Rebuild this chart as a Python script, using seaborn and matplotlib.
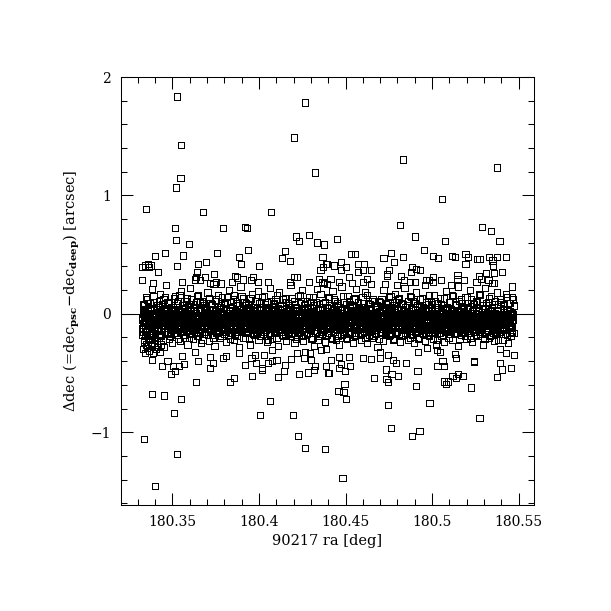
import numpy as np
import pandas as pd
import matplotlib
matplotlib.use("Agg")
import matplotlib.pyplot as plt
import seaborn as sns
from matplotlib.ticker import MultipleLocator, FixedLocator, FixedFormatter

# ---------------- data ----------------
# sparse / outlying points: RA [deg], Delta dec [arcsec]
out_ra = [
    180.3529, 180.4264, 180.4204, 180.3552, 180.4326, 180.3548, 180.3520, 180.3350, 180.3679, 180.4072,
    180.3517, 180.3794, 180.3921, 180.3933, 180.3521, 180.3598, 180.3460, 180.3562, 180.3402, 180.3760,
    180.3939, 180.3887, 180.4151, 180.4133, 180.4181, 180.4216, 180.4232, 180.4291, 180.4336, 180.4378,
    180.4367, 180.4388, 180.4372, 180.4355, 180.3327, 180.3342, 180.3362, 180.3377, 180.3365, 180.3419,
    180.3650, 180.3696, 180.3529, 180.3895, 180.4002, 180.3739, 180.3643, 180.3327, 180.3389, 180.3558,
    180.3629, 180.3639, 180.3691, 180.3658, 180.3860, 180.3874, 180.3846, 180.3908, 180.3966, 180.3953,
    180.3754, 180.3719, 180.3781, 180.4054, 180.4203, 180.4222, 180.4181, 180.4291, 180.4349, 180.4367,
    180.4374, 180.3997,
    180.4834, 180.5376, 180.5055, 180.4816, 180.5290, 180.5342, 180.4451, 180.4903, 180.5073, 180.5389,
    180.4952, 180.4530, 180.4555, 180.4761, 180.4719, 180.4834, 180.5007, 180.5036, 180.5113, 180.5134,
    180.5192, 180.5209, 180.5258, 180.5273, 180.5330, 180.5374, 180.5428, 180.5348, 180.5352, 180.4393,
    180.4435, 180.4476, 180.4503, 180.4476, 180.4574, 180.4608, 180.4599, 180.4570, 180.4645, 180.4782,
    180.4753, 180.4740, 180.4740, 180.4886, 180.4909, 180.4932, 180.4880, 180.5192, 180.5311, 180.5359,
    180.5405, 180.5269, 180.5284, 180.5146, 180.5146, 180.4820, 180.4836, 180.4413, 180.4463, 180.4520,
    180.4623, 180.4603, 180.4649, 180.4963, 180.4980, 180.5007, 180.5007, 180.5053, 180.5186, 180.5256,
    180.5281, 180.5325, 180.5344, 180.5356, 180.4901, 180.4872, 180.4726, 180.4796, 180.4538, 180.4393,
    180.5110, 180.5460,
    180.3639, 180.3835, 180.3857, 180.3385, 180.3454, 180.3552, 180.3512, 180.4064, 180.4008, 180.4199,
    180.4383, 180.3338, 180.3529, 180.3402, 180.4226, 180.4264, 180.4383, 180.3962, 180.4112, 180.3494,
    180.3517, 180.3442, 180.3385, 180.3719, 180.3921, 180.4020, 180.4020, 180.4145, 180.4149, 180.4232,
    180.4285, 180.4317, 180.4386, 180.3650, 180.3737, 180.3794, 180.3984, 180.4051, 180.4076, 180.4101,
    180.4186, 180.4259, 180.4303, 180.3569, 180.3540, 180.3473, 180.3502, 180.4398, 180.3716, 180.3808,
    180.3631, 180.3558, 180.3887, 180.3957, 180.3976, 180.4031, 180.4076, 180.4109, 180.4222, 180.4268,
    180.4293, 180.4326, 180.4386, 180.4359,
    180.4482, 180.4763, 180.4886, 180.4927, 180.5273, 180.4747, 180.4985, 180.4505, 180.4488, 180.4459,
    180.4494, 180.4906, 180.5226, 180.5082, 180.5070, 180.5090, 180.5376, 180.4666, 180.4747, 180.4736,
    180.4805, 180.4765, 180.4732, 180.4915, 180.4851, 180.5031, 180.5070, 180.5060, 180.5117, 180.5150,
    180.5180, 180.5137, 180.5242, 180.5394, 180.5405, 180.5457, 180.4403, 180.4418, 180.4461, 180.4476,
    180.4528, 180.4499, 180.4463, 180.4522, 180.4603, 180.4649, 180.4701, 180.4774, 180.4793, 180.5474,
    180.5428, 180.5394, 180.4920, 180.4972, 180.5028, 180.5047, 180.5134, 180.5140, 180.5242, 180.4701,
    180.4747,
]
out_ddec = [
    1.836, 1.785, 1.489, 1.424, 1.193, 1.150, 1.066, 0.888, 0.862, 0.862,
    0.727, 0.727, 0.735, 0.727, 0.625, 0.588, 0.515, 0.493, 0.490, 0.515,
    0.541, 0.482, 0.532, 0.473, 0.448, 0.653, 0.617, 0.668, 0.603, 0.586,
    0.482, 0.419, 0.394, 0.368, 0.397, 0.408, 0.419, 0.408, 0.397, 0.355,
    0.422, 0.436, 0.405, 0.422, 0.405, 0.338, 0.355, 0.287, 0.262, 0.270,
    0.289, 0.309, 0.312, 0.284, 0.321, 0.306, 0.270, 0.289, 0.312, 0.287,
    0.270, 0.262, 0.256, 0.270, 0.312, 0.312, 0.270, 0.270, 0.295, 0.270,
    0.262, 0.270,
    1.303, 1.235, 0.972, 0.752, 0.735, 0.702, 0.631, 0.653, 0.617, 0.617,
    0.541, 0.507, 0.507, 0.512, 0.473, 0.482, 0.490, 0.473, 0.490, 0.482,
    0.507, 0.482, 0.461, 0.465, 0.482, 0.482, 0.482, 0.450, 0.408, 0.422,
    0.408, 0.436, 0.394, 0.368, 0.422, 0.422, 0.368, 0.355, 0.368, 0.436,
    0.368, 0.338, 0.321, 0.394, 0.380, 0.368, 0.355, 0.422, 0.343, 0.343,
    0.355, 0.321, 0.295, 0.326, 0.295, 0.321, 0.287, 0.295, 0.270, 0.312,
    0.295, 0.270, 0.253, 0.287, 0.287, 0.312, 0.270, 0.287, 0.287, 0.270,
    0.295, 0.287, 0.262, 0.262, 0.270, 0.270, 0.253, 0.245, 0.262, 0.253,
    0.245, 0.230,
    -0.576, -0.576, -0.543, -0.678, -0.690, -0.720, -0.839, -0.737, -0.856, -0.856,
    -0.746, -1.059, -1.186, -1.457, -1.033, -1.132, -1.144, -0.526, -0.534, -0.509,
    -0.481, -0.441, -0.390, -0.458, -0.433, -0.458, -0.475, -0.483, -0.433, -0.509,
    -0.495, -0.472, -0.441, -0.399, -0.416, -0.373, -0.416, -0.416, -0.399, -0.390,
    -0.382, -0.373, -0.390, -0.427, -0.441, -0.399, -0.441, -0.500, -0.365, -0.356,
    -0.322, -0.356, -0.331, -0.373, -0.348, -0.348, -0.306, -0.272, -0.331, -0.322,
    -0.331, -0.441, -0.297, -0.306,
    -1.389, -0.966, -1.033, -0.991, -0.881, -0.771, -0.754, -0.720, -0.661, -0.653,
    -0.593, -0.610, -0.622, -0.593, -0.571, -0.571, -0.534, -0.543, -0.576, -0.551,
    -0.526, -0.509, -0.470, -0.483, -0.416, -0.444, -0.441, -0.399, -0.526, -0.509,
    -0.526, -0.543, -0.399, -0.416, -0.470, -0.458, -0.500, -0.390, -0.365, -0.424,
    -0.444, -0.483, -0.458, -0.365, -0.373, -0.382, -0.373, -0.390, -0.416, -0.348,
    -0.331, -0.297, -0.322, -0.289, -0.306, -0.322, -0.339, -0.373, -0.407, -0.322,
    -0.345,
]

# dense core of the band: RA offset from 180.3 deg in 1e-4 deg, Delta dec in 0.01 arcsec
core_ra_e4 = [
    325, 329, 331, 335, 338, 343, 345, 348, 352, 355, 358, 362, 364, 369, 372, 375, 379, 381, 385, 389,
    393, 395, 398, 403, 406, 408, 412, 416, 419, 422, 424, 429, 432, 436, 438, 441, 445, 448, 452, 456,
    458, 463, 466, 469, 473, 475, 479, 482, 487, 489, 492, 496, 499, 503, 505, 509, 512, 515, 519, 523,
    526, 530, 532, 536, 539, 544, 546, 549, 553, 556, 559, 563, 565, 570, 573, 576, 580, 582, 586, 590,
    594, 596, 599, 604, 607, 609, 613, 617, 620, 623, 625, 630, 633, 637, 639, 642, 646, 649, 653, 657,
    659, 664, 667, 670, 674, 676, 680, 683, 688, 690, 693, 697, 700, 704, 706, 710, 713, 716, 720, 724,
    727, 731, 733, 737, 740, 745, 747, 750, 754, 757, 760, 764, 766, 771, 774, 777, 781, 783, 787, 791,
    795, 797, 800, 805, 808, 810, 814, 818, 821, 824, 826, 831, 834, 838, 840, 843, 847, 850, 854, 858,
    860, 865, 868, 871, 875, 877, 881, 884, 889, 891, 894, 898, 901, 905, 907, 911, 914, 917, 921, 925,
    928, 932, 934, 938, 941, 946, 948, 951, 955, 958, 961, 965, 967, 972, 975, 978, 982, 984, 988, 992,
    996, 998, 1001, 1006, 1009, 1011, 1015, 1019, 1022, 1025, 1027, 1032, 1035, 1039, 1041, 1044, 1048, 1051, 1055, 1059,
    1061, 1066, 1069, 1072, 1076, 1078, 1082, 1085, 1090, 1092, 1095, 1099, 1102, 1106, 1108, 1112, 1115, 1118, 1122, 1126,
    1129, 1133, 1135, 1139, 1142, 1147, 1149, 1152, 1156, 1159, 1162, 1166, 1168, 1173, 1176, 1179, 1183, 1185, 1189, 1193,
    1197, 1199, 1202, 1207, 1210, 1212, 1216, 1220, 1223, 1226, 1228, 1233, 1236, 1240, 1242, 1245, 1249, 1252, 1256, 1260,
    1262, 1267, 1270, 1273, 1277, 1279, 1283, 1286, 1291, 1293, 1296, 1300, 1303, 1307, 1309, 1313, 1316, 1319, 1323, 1327,
    1330, 1334, 1336, 1340, 1343, 1348, 1350, 1353, 1357, 1360, 1363, 1367, 1369, 1374, 1377, 1380, 1384, 1386, 1390, 1394,
    1398, 1400, 1403, 1408, 1411, 1413, 1417, 1421, 1424, 1427, 1429, 1434, 1437, 1441, 1443, 1446, 1450, 1453, 1457, 1461,
    1463, 1468, 1471, 1474, 1478, 1480, 1484, 1487, 1492, 1494, 1497, 1501, 1504, 1508, 1510, 1514, 1517, 1520, 1524, 1528,
    1531, 1535, 1537, 1541, 1544, 1549, 1551, 1554, 1558, 1561, 1564, 1568, 1570, 1575, 1578, 1581, 1585, 1587, 1591, 1595,
    1599, 1601, 1604, 1609, 1612, 1614, 1618, 1622, 1625, 1628, 1630, 1635, 1638, 1642, 1644, 1647, 1651, 1654, 1658, 1662,
    1664, 1669, 1672, 1675, 1679, 1681, 1685, 1688, 1693, 1695, 1698, 1702, 1705, 1709, 1711, 1715, 1718, 1721, 1725, 1729,
    1732, 1736, 1738, 1742, 1745, 1750, 1752, 1755, 1759, 1762, 1765, 1769, 1771, 1776, 1779, 1782, 1786, 1788, 1792, 1796,
    1800, 1802, 1805, 1810, 1813, 1815, 1819, 1823, 1826, 1829, 1831, 1836, 1839, 1843, 1845, 1848, 1852, 1855, 1859, 1863,
    1865, 1870, 1873, 1876, 1880, 1882, 1886, 1889, 1894, 1896, 1899, 1903, 1906, 1910, 1912, 1916, 1919, 1922, 1926, 1930,
    1933, 1937, 1939, 1943, 1946, 1951, 1953, 1956, 1960, 1963, 1966, 1970, 1972, 1977, 1980, 1983, 1987, 1989, 1993, 1997,
    2001, 2003, 2006, 2011, 2014, 2016, 2020, 2024, 2027, 2030, 2032, 2037, 2040, 2044, 2046, 2049, 2053, 2056, 2060, 2064,
    2066, 2071, 2074, 2077, 2081, 2083, 2087, 2090, 2095, 2097, 2100, 2104, 2107, 2111, 2113, 2117, 2120, 2123, 2127, 2131,
    2134, 2138, 2140, 2144, 2147, 2152, 2154, 2157, 2161, 2164, 2167, 2171, 2173, 2178, 2181, 2184, 2188, 2190, 2194, 2198,
    2202, 2204, 2207, 2212, 2215, 2217, 2221, 2225, 2228, 2231, 2233, 2238, 2241, 2245, 2247, 2250, 2254, 2257, 2261, 2265,
    2267, 2272, 2275, 2278, 2282, 2284, 2288, 2291, 2296, 2298, 2301, 2305, 2308, 2312, 2314, 2318, 2321, 2324, 2328, 2332,
    2335, 2339, 2341, 2345, 2348, 2353, 2355, 2358, 2362, 2365, 2368, 2372, 2374, 2379, 2382, 2385, 2389, 2391, 2395, 2399,
    2403, 2405, 2408, 2413, 2416, 2418, 2422, 2426, 2429, 2432, 2434, 2439, 2442, 2446, 2448, 2451, 2455, 2458, 2462, 2466,
]
core_ddec_e2 = [
    -3, 2, -9, -5, 1, -12, -6, 0, -2, -10, 4, -7, -4, -13, -1, 3, -8, -5, -11, -2,
    -6, -11, 1, -3, -8, 4, -13, -5, -1, -9, -4, 2, -7, -12, 0, -6, -3, -10, 5, -8,
    0, -7, -4, -12, 3, -9, -2, -6, -14, 1, -5, -10, -3, 4, -8, -1, -11, -6, 2, -4,
    -9, -1, -5, 3, -13, -7, 2, -3, -10, -6, 0, -12, -4, -8, 5, -2, -9, -14, -5, 1,
    -4, -10, 4, -2, -7, -12, -1, -5, 2, -9, -13, -3, -6, 1, -11, -4, 3, -7, -2, -10,
    2, -5, -13, -8, -1, -4, -11, 5, -6, -3, -9, 0, -12, -5, -2, -8, 4, -10, -6, -1,
    -7, 3, -2, -10, -5, 0, -8, -12, -4, 1, -6, -14, -3, -9, 2, -5, -11, -1, -7, -3,
    -11, -4, 0, -6, 4, -9, -3, -13, -7, -2, 3, -5, -10, -1, -8, -4, 1, -12, -6, 0,
    -3, 2, -9, -5, 1, -12, -6, 0, -2, -10, 4, -7, -4, -13, -1, 3, -8, -5, -11, -2,
    -6, -11, 1, -3, -8, 4, -13, -5, -1, -9, -4, 2, -7, -12, 0, -6, -3, -10, 5, -8,
    0, -7, -4, -12, 3, -9, -2, -6, -14, 1, -5, -10, -3, 4, -8, -1, -11, -6, 2, -4,
    -9, -1, -5, 3, -13, -7, 2, -3, -10, -6, 0, -12, -4, -8, 5, -2, -9, -14, -5, 1,
    -4, -10, 4, -2, -7, -12, -1, -5, 2, -9, -13, -3, -6, 1, -11, -4, 3, -7, -2, -10,
    2, -5, -13, -8, -1, -4, -11, 5, -6, -3, -9, 0, -12, -5, -2, -8, 4, -10, -6, -1,
    -7, 3, -2, -10, -5, 0, -8, -12, -4, 1, -6, -14, -3, -9, 2, -5, -11, -1, -7, -3,
    -11, -4, 0, -6, 4, -9, -3, -13, -7, -2, 3, -5, -10, -1, -8, -4, 1, -12, -6, 0,
    -3, 2, -9, -5, 1, -12, -6, 0, -2, -10, 4, -7, -4, -13, -1, 3, -8, -5, -11, -2,
    -6, -11, 1, -3, -8, 4, -13, -5, -1, -9, -4, 2, -7, -12, 0, -6, -3, -10, 5, -8,
    0, -7, -4, -12, 3, -9, -2, -6, -14, 1, -5, -10, -3, 4, -8, -1, -11, -6, 2, -4,
    -9, -1, -5, 3, -13, -7, 2, -3, -10, -6, 0, -12, -4, -8, 5, -2, -9, -14, -5, 1,
    -4, -10, 4, -2, -7, -12, -1, -5, 2, -9, -13, -3, -6, 1, -11, -4, 3, -7, -2, -10,
    2, -5, -13, -8, -1, -4, -11, 5, -6, -3, -9, 0, -12, -5, -2, -8, 4, -10, -6, -1,
    -7, 3, -2, -10, -5, 0, -8, -12, -4, 1, -6, -14, -3, -9, 2, -5, -11, -1, -7, -3,
    -11, -4, 0, -6, 4, -9, -3, -13, -7, -2, 3, -5, -10, -1, -8, -4, 1, -12, -6, 0,
    -3, 2, -9, -5, 1, -12, -6, 0, -2, -10, 4, -7, -4, -13, -1, 3, -8, -5, -11, -2,
    -6, -11, 1, -3, -8, 4, -13, -5, -1, -9, -4, 2, -7, -12, 0, -6, -3, -10, 5, -8,
    0, -7, -4, -12, 3, -9, -2, -6, -14, 1, -5, -10, -3, 4, -8, -1, -11, -6, 2, -4,
    -9, -1, -5, 3, -13, -7, 2, -3, -10, -6, 0, -12, -4, -8, 5, -2, -9, -14, -5, 1,
    -4, -10, 4, -2, -7, -12, -1, -5, 2, -9, -13, -3, -6, 1, -11, -4, 3, -7, -2, -10,
    2, -5, -13, -8, -1, -4, -11, 5, -6, -3, -9, 0, -12, -5, -2, -8, 4, -10, -6, -1,
    -7, 3, -2, -10, -5, 0, -8, -12, -4, 1, -6, -14, -3, -9, 2, -5, -11, -1, -7, -3,
    -11, -4, 0, -6, 4, -9, -3, -13, -7, -2, 3, -5, -10, -1, -8, -4, 1, -12, -6, 0,
]

# second layer of the dense core (same units)
core2_ra_e4 = [
    325, 328, 332, 335, 340, 342, 346, 349, 352, 356, 358, 361, 366, 369, 373, 375, 379, 382, 386, 390,
    393, 396, 398, 402, 406, 409, 414, 416, 419, 423, 426, 428, 432, 437, 440, 443, 447, 450, 452, 457,
    461, 464, 467, 469, 474, 477, 481, 483, 487, 490, 493, 497, 499, 504, 507, 511, 514, 516, 520, 524,
    526, 529, 533, 536, 541, 543, 547, 550, 553, 557, 559, 562, 567, 570, 574, 576, 580, 583, 587, 591,
    594, 597, 599, 603, 607, 610, 615, 617, 620, 624, 627, 629, 633, 638, 641, 644, 648, 651, 653, 658,
    662, 665, 668, 670, 675, 678, 682, 684, 688, 691, 694, 698, 700, 705, 708, 712, 715, 717, 721, 725,
    727, 730, 734, 737, 742, 744, 748, 751, 754, 758, 760, 763, 768, 771, 775, 777, 781, 784, 788, 792,
    795, 798, 800, 804, 808, 811, 816, 818, 821, 825, 828, 830, 834, 839, 842, 845, 849, 852, 854, 859,
    863, 866, 869, 871, 876, 879, 883, 885, 889, 892, 895, 899, 901, 906, 909, 913, 916, 918, 922, 926,
    928, 931, 935, 938, 943, 945, 949, 952, 955, 959, 961, 964, 969, 972, 976, 978, 982, 985, 989, 993,
    996, 999, 1001, 1005, 1009, 1012, 1017, 1019, 1022, 1026, 1029, 1031, 1035, 1040, 1043, 1046, 1050, 1053, 1055, 1060,
    1064, 1067, 1070, 1072, 1077, 1080, 1084, 1086, 1090, 1093, 1096, 1100, 1102, 1107, 1110, 1114, 1117, 1119, 1123, 1127,
    1129, 1132, 1136, 1139, 1144, 1146, 1150, 1153, 1156, 1160, 1162, 1165, 1170, 1173, 1177, 1179, 1183, 1186, 1190, 1194,
    1197, 1200, 1202, 1206, 1210, 1213, 1218, 1220, 1223, 1227, 1230, 1232, 1236, 1241, 1244, 1247, 1251, 1254, 1256, 1261,
    1265, 1268, 1271, 1273, 1278, 1281, 1285, 1287, 1291, 1294, 1297, 1301, 1303, 1308, 1311, 1315, 1318, 1320, 1324, 1328,
    1330, 1333, 1337, 1340, 1345, 1347, 1351, 1354, 1357, 1361, 1363, 1366, 1371, 1374, 1378, 1380, 1384, 1387, 1391, 1395,
    1398, 1401, 1403, 1407, 1411, 1414, 1419, 1421, 1424, 1428, 1431, 1433, 1437, 1442, 1445, 1448, 1452, 1455, 1457, 1462,
    1466, 1469, 1472, 1474, 1479, 1482, 1486, 1488, 1492, 1495, 1498, 1502, 1504, 1509, 1512, 1516, 1519, 1521, 1525, 1529,
    1531, 1534, 1538, 1541, 1546, 1548, 1552, 1555, 1558, 1562, 1564, 1567, 1572, 1575, 1579, 1581, 1585, 1588, 1592, 1596,
    1599, 1602, 1604, 1608, 1612, 1615, 1620, 1622, 1625, 1629, 1632, 1634, 1638, 1643, 1646, 1649, 1653, 1656, 1658, 1663,
    1667, 1670, 1673, 1675, 1680, 1683, 1687, 1689, 1693, 1696, 1699, 1703, 1705, 1710, 1713, 1717, 1720, 1722, 1726, 1730,
    1732, 1735, 1739, 1742, 1747, 1749, 1753, 1756, 1759, 1763, 1765, 1768, 1773, 1776, 1780, 1782, 1786, 1789, 1793, 1797,
    1800, 1803, 1805, 1809, 1813, 1816, 1821, 1823, 1826, 1830, 1833, 1835, 1839, 1844, 1847, 1850, 1854, 1857, 1859, 1864,
    1868, 1871, 1874, 1876, 1881, 1884, 1888, 1890, 1894, 1897, 1900, 1904, 1906, 1911, 1914, 1918, 1921, 1923, 1927, 1931,
    1933, 1936, 1940, 1943, 1948, 1950, 1954, 1957, 1960, 1964, 1966, 1969, 1974, 1977, 1981, 1983, 1987, 1990, 1994, 1998,
    2001, 2004, 2006, 2010, 2014, 2017, 2022, 2024, 2027, 2031, 2034, 2036, 2040, 2045, 2048, 2051, 2055, 2058, 2060, 2065,
    2069, 2072, 2075, 2077, 2082, 2085, 2089, 2091, 2095, 2098, 2101, 2105, 2107, 2112, 2115, 2119, 2122, 2124, 2128, 2132,
    2134, 2137, 2141, 2144, 2149, 2151, 2155, 2158, 2161, 2165, 2167, 2170, 2175, 2178, 2182, 2184, 2188, 2191, 2195, 2199,
    2202, 2205, 2207, 2211, 2215, 2218, 2223, 2225, 2228, 2232, 2235, 2237, 2241, 2246, 2249, 2252, 2256, 2259, 2261, 2266,
    2270, 2273, 2276, 2278, 2283, 2286, 2290, 2292, 2296, 2299, 2302, 2306, 2308, 2313, 2316, 2320, 2323, 2325, 2329, 2333,
    2335, 2338, 2342, 2345, 2350, 2352, 2356, 2359, 2362, 2366, 2368, 2371, 2376, 2379, 2383, 2385, 2389, 2392, 2396, 2400,
    2403, 2406, 2408, 2412, 2416, 2419, 2424, 2426, 2429, 2433, 2436, 2438, 2442, 2447, 2450, 2453, 2457, 2460, 2462, 2467,
]
core2_ddec_e2 = [
    -5, -12, 1, -8, -2, 4, -10, -6, -1, -13, -4, 2, -9, -3, -7, 5, -11, -5, 0, -8,
    3, -7, -3, -11, -1, -6, -13, 0, -9, -4, 4, -8, -2, -12, -5, 1, -10, -3, -7, 2,
    -10, -2, -6, 5, -12, -4, -8, 1, -3, -11, -6, 3, -13, -1, -7, -4, 0, -9, -5, -12,
    -1, -9, 3, -5, -13, -2, -7, -11, 4, -4, -8, 0, -6, -10, 2, -3, -12, -7, 1, -5,
    -8, 0, -4, -11, 2, -6, -1, -10, -5, 6, -12, -3, -7, 1, -9, -2, -13, -4, 3, -6,
    -6, 4, -11, -2, -8, -4, 1, -13, -7, -1, -10, -5, 3, -9, -3, 0, -8, -12, -2, -4,
    1, -6, -9, -3, -12, 0, -5, -8, 2, -10, -2, -7, -11, 4, -4, -1, -9, -6, -13, 5,
    -5, -12, 1, -8, -2, 4, -10, -6, -1, -13, -4, 2, -9, -3, -7, 5, -11, -5, 0, -8,
    3, -7, -3, -11, -1, -6, -13, 0, -9, -4, 4, -8, -2, -12, -5, 1, -10, -3, -7, 2,
    -10, -2, -6, 5, -12, -4, -8, 1, -3, -11, -6, 3, -13, -1, -7, -4, 0, -9, -5, -12,
    -1, -9, 3, -5, -13, -2, -7, -11, 4, -4, -8, 0, -6, -10, 2, -3, -12, -7, 1, -5,
    -8, 0, -4, -11, 2, -6, -1, -10, -5, 6, -12, -3, -7, 1, -9, -2, -13, -4, 3, -6,
    -6, 4, -11, -2, -8, -4, 1, -13, -7, -1, -10, -5, 3, -9, -3, 0, -8, -12, -2, -4,
    1, -6, -9, -3, -12, 0, -5, -8, 2, -10, -2, -7, -11, 4, -4, -1, -9, -6, -13, 5,
    -5, -12, 1, -8, -2, 4, -10, -6, -1, -13, -4, 2, -9, -3, -7, 5, -11, -5, 0, -8,
    3, -7, -3, -11, -1, -6, -13, 0, -9, -4, 4, -8, -2, -12, -5, 1, -10, -3, -7, 2,
    -10, -2, -6, 5, -12, -4, -8, 1, -3, -11, -6, 3, -13, -1, -7, -4, 0, -9, -5, -12,
    -1, -9, 3, -5, -13, -2, -7, -11, 4, -4, -8, 0, -6, -10, 2, -3, -12, -7, 1, -5,
    -8, 0, -4, -11, 2, -6, -1, -10, -5, 6, -12, -3, -7, 1, -9, -2, -13, -4, 3, -6,
    -6, 4, -11, -2, -8, -4, 1, -13, -7, -1, -10, -5, 3, -9, -3, 0, -8, -12, -2, -4,
    1, -6, -9, -3, -12, 0, -5, -8, 2, -10, -2, -7, -11, 4, -4, -1, -9, -6, -13, 5,
    -5, -12, 1, -8, -2, 4, -10, -6, -1, -13, -4, 2, -9, -3, -7, 5, -11, -5, 0, -8,
    3, -7, -3, -11, -1, -6, -13, 0, -9, -4, 4, -8, -2, -12, -5, 1, -10, -3, -7, 2,
    -10, -2, -6, 5, -12, -4, -8, 1, -3, -11, -6, 3, -13, -1, -7, -4, 0, -9, -5, -12,
    -1, -9, 3, -5, -13, -2, -7, -11, 4, -4, -8, 0, -6, -10, 2, -3, -12, -7, 1, -5,
    -8, 0, -4, -11, 2, -6, -1, -10, -5, 6, -12, -3, -7, 1, -9, -2, -13, -4, 3, -6,
    -6, 4, -11, -2, -8, -4, 1, -13, -7, -1, -10, -5, 3, -9, -3, 0, -8, -12, -2, -4,
    1, -6, -9, -3, -12, 0, -5, -8, 2, -10, -2, -7, -11, 4, -4, -1, -9, -6, -13, 5,
    -5, -12, 1, -8, -2, 4, -10, -6, -1, -13, -4, 2, -9, -3, -7, 5, -11, -5, 0, -8,
    3, -7, -3, -11, -1, -6, -13, 0, -9, -4, 4, -8, -2, -12, -5, 1, -10, -3, -7, 2,
    -10, -2, -6, 5, -12, -4, -8, 1, -3, -11, -6, 3, -13, -1, -7, -4, 0, -9, -5, -12,
    -1, -9, 3, -5, -13, -2, -7, -11, 4, -4, -8, 0, -6, -10, 2, -3, -12, -7, 1, -5,
]

# fringe above the core (same units)
upper_ra_e4 = [
    330, 347, 361, 382, 396, 415, 428, 449, 466, 480, 501, 514, 533, 552, 566, 585, 602, 618, 637, 650,
    671, 686, 703, 721, 738, 752, 774, 789, 805, 826, 840, 857, 873, 894, 908, 925, 943, 960, 976, 995,
    1010, 1031, 1045, 1062, 1080, 1096, 1117, 1130, 1149, 1166, 1183, 1201, 1215, 1236, 1250, 1268, 1287, 1302, 1320, 1337,
    1355, 1371, 1390, 1406, 1425, 1441, 1458, 1477, 1492, 1511, 1527, 1546, 1561, 1580, 1598, 1613, 1632, 1648, 1667, 1683,
    1700, 1719, 1734, 1753, 1770, 1786, 1805, 1821, 1840, 1856, 1873, 1891, 1907, 1926, 1942, 1961, 1977, 1995, 2012, 2029,
    2046, 2063, 2081, 2097, 2116, 2132, 2150, 2167, 2184, 2202, 2218, 2237, 2253, 2271, 2289, 2305, 2324, 2340, 2358, 2376,
    2392, 2409, 2427, 2444, 2461, 2474,
    338, 356, 372, 391, 405, 424, 440, 458, 473, 491, 508, 525, 542, 559, 577, 594, 610, 628, 644, 662,
    679, 695, 712, 730, 746, 763, 781, 797, 815, 832, 849, 866, 884, 900, 917, 935, 951, 968, 986, 1003,
    1020, 1037, 1054, 1071, 1088, 1106, 1122, 1140, 1157, 1174, 1191, 1208, 1225, 1243, 1259, 1277, 1294, 1311, 1328, 1346,
    1363, 1380, 1397, 1415, 1432, 1449, 1466, 1484, 1501, 1518, 1535, 1553, 1570, 1587, 1604, 1622, 1639, 1656, 1673, 1691,
    1708, 1725, 1742, 1760, 1777, 1794, 1811, 1829, 1846, 1863, 1880, 1898, 1915, 1932, 1949, 1967, 1984, 2001, 2018, 2036,
    2053, 2070, 2087, 2105, 2122, 2139, 2156, 2174, 2191, 2208, 2225, 2243, 2260, 2277, 2294, 2312, 2329, 2346, 2363, 2381,
    2398, 2415, 2432, 2450, 2466,
]
upper_ddec_e2 = [
    8, 14, 6, 21, 10, 7, 17, 12, 24, 9, 6, 15, 11, 19, 7, 13, 22, 8, 10, 16,
    11, 7, 18, 9, 25, 12, 6, 14, 8, 20, 10, 16, 7, 23, 13, 9, 6, 17, 11, 19,
    6, 15, 10, 22, 8, 12, 18, 7, 13, 9, 24, 11, 6, 16, 20, 8, 14, 10, 7, 21,
    17, 9, 6, 13, 19, 11, 7, 23, 10, 15, 8, 12, 21, 6, 14, 18, 9, 25, 11, 7,
    10, 20, 8, 14, 6, 17, 12, 9, 22, 7, 15, 11, 18, 6, 13, 24, 8, 10, 16, 9,
    13, 7, 19, 10, 16, 8, 23, 12, 6, 14, 20, 9, 11, 17, 7, 22, 10, 15, 8, 18,
    12, 8, 17, 9, 14, 7,
    7, 12, 9, 15, 6, 11, 8, 14, 10, 6, 13, 9, 16, 7, 11, 8, 12, 6, 15, 10,
    9, 6, 13, 8, 11, 16, 7, 10, 14, 6, 12, 9, 7, 15, 10, 8, 13, 6, 11, 9,
    14, 8, 6, 11, 9, 16, 7, 12, 10, 6, 13, 8, 15, 9, 7, 11, 6, 14, 10, 8,
    6, 10, 14, 7, 12, 9, 6, 15, 8, 11, 7, 13, 10, 6, 9, 16, 8, 12, 7, 11,
    12, 6, 9, 15, 7, 10, 13, 8, 6, 11, 14, 9, 7, 12, 6, 10, 16, 8, 11, 9,
    8, 13, 6, 10, 15, 7, 11, 9, 14, 6, 12, 8, 10, 16, 7, 9, 13, 6, 11, 8,
    10, 7, 14, 9, 12,
]

# fringe below the core (same units)
lower_ra_e4 = [
    325, 336, 348, 357, 369, 383, 395, 410, 424, 437, 452, 468, 481, 497, 512, 526, 543, 557, 573, 588,
    604, 619, 636, 650, 667, 681, 698, 713, 729, 744, 761, 776, 792, 808, 823, 840, 855, 871, 886, 903,
    918, 935, 950, 966, 983, 998, 1014, 1030, 1045, 1062, 1077, 1093, 1110, 1125, 1141, 1157, 1173, 1190, 1205, 1221,
    1238, 1253, 1269, 1286, 1301, 1317, 1334, 1349, 1366, 1381, 1397, 1414, 1429, 1446, 1461, 1477, 1494, 1509, 1525, 1542,
    1557, 1574, 1589, 1605, 1622, 1637, 1654, 1670, 1685, 1702, 1718, 1734, 1749, 1766, 1781, 1798, 1814, 1829, 1846, 1862,
    1878, 1894, 1910, 1926, 1942, 1958, 1974, 1990, 2006, 2022, 2038, 2054, 2070, 2086, 2102, 2118, 2134, 2150, 2166, 2182,
    2198, 2214, 2230, 2246, 2262, 2278, 2294, 2310, 2326, 2342, 2358, 2374, 2390, 2406, 2422, 2438, 2454, 2470,
    332, 338, 341, 347, 352, 356, 361, 366, 372, 377, 383, 388, 393, 399, 404, 410, 416, 421, 428, 435,
    331, 344, 353, 363, 375, 389, 401, 416, 430, 445, 459, 474, 489, 505, 519, 535, 550, 566, 581, 596,
    612, 628, 643, 659, 674, 690, 706, 721, 737, 752, 768, 784, 800, 815, 831, 847, 862, 878, 894, 910,
    926, 942, 958, 974, 990, 1006, 1022, 1038, 1054, 1070, 1086, 1102, 1118, 1134, 1150, 1166, 1182, 1198, 1214, 1230,
    1246, 1262, 1278, 1294, 1310, 1326, 1342, 1358, 1374, 1390, 1406, 1422, 1438, 1454, 1470, 1486, 1502, 1518, 1534, 1550,
    1566, 1582, 1598, 1614, 1630, 1646, 1662, 1678, 1694, 1710, 1726, 1742, 1758, 1774, 1790, 1806, 1822, 1838, 1854, 1870,
    1886, 1902, 1918, 1934, 1950, 1966, 1982, 1998, 2014, 2030, 2046, 2062, 2078, 2094, 2110, 2126, 2142, 2158, 2174, 2190,
    2206, 2222, 2238, 2254, 2270, 2286, 2302, 2318, 2334, 2350, 2366, 2382, 2398, 2414, 2430, 2446, 2462,
]
lower_ddec_e2 = [
    -18, -24, -15, -27, -20, -16, -22, -26, -17, -19, -28, -15, -21, -25, -16, -18, -23, -15, -20, -26,
    -16, -21, -15, -19, -25, -17, -15, -23, -18, -27, -16, -20, -15, -24, -18, -16, -22, -19, -28, -15,
    -20, -15, -26, -17, -16, -22, -19, -15, -24, -18, -21, -16, -27, -15, -19, -23, -17, -16, -25, -18,
    -15, -23, -18, -16, -21, -27, -15, -19, -17, -24, -16, -20, -15, -22, -26, -18, -15, -21, -17, -25,
    -19, -16, -22, -15, -25, -18, -20, -16, -28, -15, -23, -17, -19, -16, -21, -15, -24, -18, -16, -22,
    -17, -25, -15, -20, -16, -23, -18, -15, -21, -26, -16, -19, -24, -15, -17, -22, -16, -27, -18, -15,
    -21, -16, -24, -15, -19, -17, -26, -15, -20, -18, -23, -16, -15, -22, -17, -25, -19, -16,
    -30, -22, -33, -26, -19, -29, -24, -31, -17, -27, -21, -33, -25, -18, -30, -23, -28, -20, -32, -26,
    -15, -19, -14, -21, -17, -16, -20, -14, -18, -22, -15, -17, -19, -14, -16, -21, -15, -18, -14, -20,
    -17, -14, -19, -16, -22, -15, -18, -14, -20, -16, -15, -19, -17, -14, -21, -16, -18, -15, -14, -20,
    -16, -21, -14, -18, -15, -19, -17, -14, -22, -16, -15, -20, -14, -18, -17, -15, -19, -14, -21, -16,
    -19, -15, -17, -14, -20, -16, -22, -15, -14, -18, -16, -21, -15, -19, -14, -17, -20, -15, -16, -18,
    -14, -18, -16, -20, -15, -14, -19, -17, -21, -15, -16, -14, -18, -22, -15, -17, -19, -14, -16, -20,
    -18, -15, -21, -14, -17, -16, -19, -15, -14, -22, -16, -18, -15, -20, -14, -17, -16, -21, -15, -19,
    -16, -20, -14, -18, -15, -17, -21, -14, -19, -16, -15, -22, -17, -14, -18, -16, -15,
]

xtick_values = [180.35, 180.4, 180.45, 180.5, 180.55]
xtick_labels = ["180.35", "180.4", "180.45", "180.5", "180.55"]
ytick_values = [-1, 0, 1, 2]

# ---------------- assemble ----------------
ra = np.concatenate([
    np.array(out_ra),
    180.3 + np.array(core_ra_e4) * 1e-4,
    180.3 + np.array(core2_ra_e4) * 1e-4,
    180.3 + np.array(upper_ra_e4) * 1e-4,
    180.3 + np.array(lower_ra_e4) * 1e-4,
])
ddec = np.concatenate([
    np.array(out_ddec),
    np.array(core_ddec_e2) / 100.0,
    np.array(core2_ddec_e2) / 100.0,
    np.array(upper_ddec_e2) / 100.0,
    np.array(lower_ddec_e2) / 100.0,
])
df = pd.DataFrame({"ra": ra, "ddec": ddec})

# ---------------- plot ----------------
sns.set_theme(style="ticks")
plt.rcParams["font.family"] = ["DejaVu Serif"]
plt.rcParams["mathtext.fontset"] = "dejavuserif"
plt.rcParams["axes.unicode_minus"] = True
plt.rcParams["text.color"] = "black"
plt.rcParams["axes.labelcolor"] = "black"

fig = plt.figure(figsize=(6.11, 6.11), dpi=100)
ax = fig.add_axes([121 / 611, 1 - 505 / 611, 413 / 611, 428 / 611])

sns.scatterplot(data=df, x="ra", y="ddec", marker="s", s=20,
                facecolor="none", edgecolor="black", linewidth=0.72,
                antialiased=False, legend=False, ax=ax)
ax.axhline(0, color="black", lw=0.75, zorder=0.5)

ax.set_xlim(180.3204, 180.5588)
ax.set_ylim(-1.615, 2.0)

ax.xaxis.set_major_locator(FixedLocator(xtick_values))
ax.xaxis.set_major_formatter(FixedFormatter(xtick_labels))
ax.xaxis.set_minor_locator(MultipleLocator(0.01))
ax.yaxis.set_major_locator(FixedLocator(ytick_values))
ax.yaxis.set_minor_locator(MultipleLocator(0.2))

ax.tick_params(which="both", direction="in", top=True, right=True,
               width=0.75, colors="black", labelsize=10)
ax.tick_params(which="major", length=8.6, pad=7)
ax.tick_params(which="minor", length=4.3)
for sp in ax.spines.values():
    sp.set_linewidth(0.75)
    sp.set_color("black")

ax.set_xlabel("90217 ra [deg]", fontsize=10.5, labelpad=4)
ax.set_ylabel(r"$\Delta$dec (=dec$_{\mathbf{psc}}$$-$dec$_{\mathbf{deep}}$) [arcsec]",
              fontsize=10.5, labelpad=6)

fig.savefig("out.png", dpi=100, facecolor="white")
